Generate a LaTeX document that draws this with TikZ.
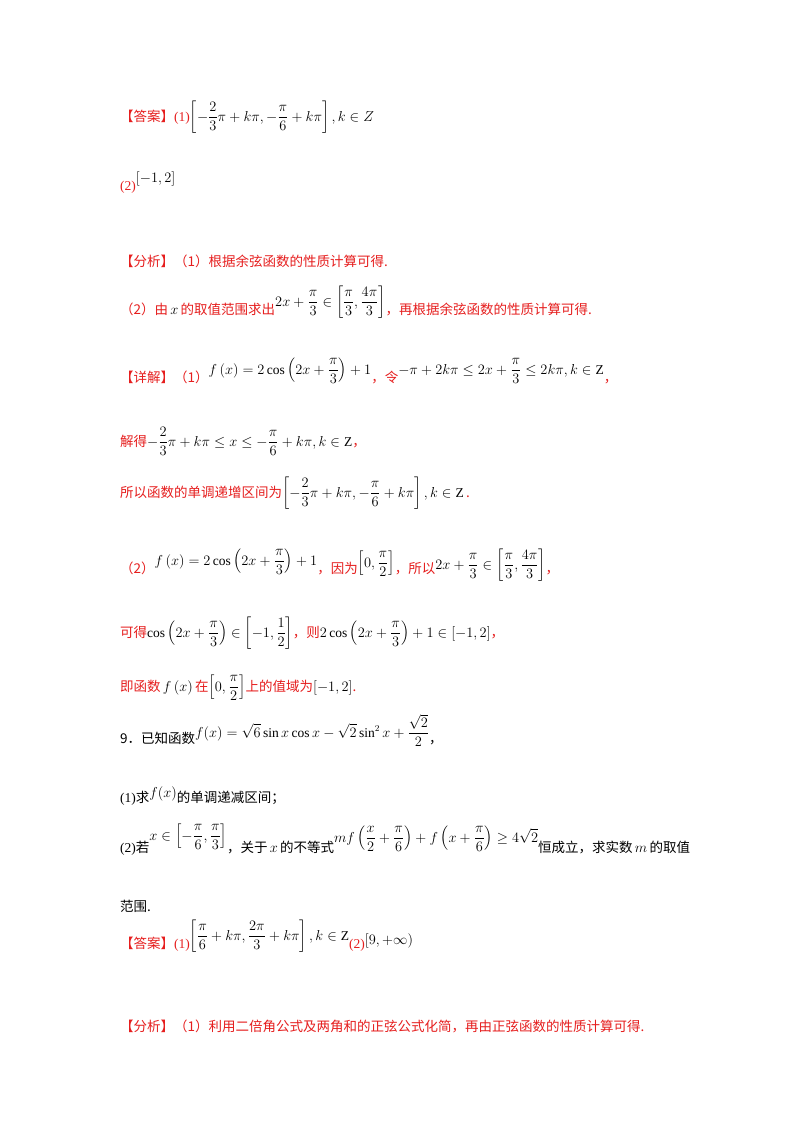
\documentclass[tikz,border=0pt]{standalone}
\usepackage{amsmath,amssymb}
\usepackage{fontspec}
\setmainfont{Liberation Serif}
\newfontfamily\cjk{Noto Sans CJK SC}
\definecolor{ans}{RGB}{230,30,30}
\newcommand{\R}[1]{\textcolor{ans}{\cjk #1}}
\newcommand{\K}[1]{{\cjk #1}}
\tikzset{ln/.style={anchor=base west,inner sep=0pt,font=\fontsize{13.5}{16}\selectfont}}
\begin{document}
\begin{tikzpicture}[x=1pt,y=-1pt]
\useasboundingbox[fill=white] (0,0) rectangle (800,1132);
\node[ln] (l1) at (120,121) {\R{【答案】}\textcolor{ans}{(1)}$\displaystyle\left[-\frac{2}{3}\pi+k\pi,-\frac{\pi}{6}+k\pi\right],k\in Z$};
\node[ln] (l2) at (120,190) {\textcolor{ans}{(2)}\raisebox{8pt}{$[-1,2]$}};
\node[ln] (l3) at (120,266) {\R{【分析】（1）根据余弦函数的性质计算可得.}};
\node[ln] (l4) at (120,314) {\R{（2）由}\,$x$\,\R{的取值范围求出}\raisebox{8pt}{$\displaystyle 2x+\frac{\pi}{3}\in\left[\frac{\pi}{3},\frac{4\pi}{3}\right]$}\R{，再根据余弦函数的性质计算可得.}};
\node[ln] (l5) at (120,382) {\R{【详解】（1）}\raisebox{8pt}{$\displaystyle f\left(x\right)=2\cos\left(2x+\frac{\pi}{3}\right)+1$}\R{，令}\raisebox{8pt}{$\displaystyle -\pi+2k\pi\le 2x+\frac{\pi}{3}\le 2k\pi,k\in\mathrm{Z}$}\R{，}};
\node[ln] (l6) at (120,446) {\R{解得}$\displaystyle -\frac{2}{3}\pi+k\pi\le x\le-\frac{\pi}{6}+k\pi,k\in\mathrm{Z}$\R{，}};
\node[ln] (l7) at (120,497) {\R{所以函数的单调递增区间为}$\displaystyle\left[-\frac{2}{3}\pi+k\pi,-\frac{\pi}{6}+k\pi\right],k\in\mathrm{Z}$\,\R{.}};
\node[ln] (l8) at (120,573) {\R{（2）}\raisebox{8pt}{$\displaystyle f\left(x\right)=2\cos\left(2x+\frac{\pi}{3}\right)+1$}\R{，因为}\raisebox{6pt}{$\displaystyle\left[0,\frac{\pi}{2}\right]$}\R{，所以}\raisebox{4pt}{$\displaystyle 2x+\frac{\pi}{3}\in\left[\frac{\pi}{3},\frac{4\pi}{3}\right]$}\R{，}};
\node[ln] (l9) at (120,637) {\R{可得}$\displaystyle\cos\left(2x+\frac{\pi}{3}\right)\in\left[-1,\frac{1}{2}\right]$\R{，则}$\displaystyle 2\cos\left(2x+\frac{\pi}{3}\right)+1\in\left[-1,2\right]$\R{，}};
\node[ln] (l10) at (120,691) {\R{即函数}\,$f\left(x\right)$\,\R{在}$\displaystyle\left[0,\frac{\pi}{2}\right]$\R{上的值域为}$\left[-1,2\right]$\R{.}};
\node[ln] (l11) at (120,743) {\K{9．已知函数}\raisebox{6pt}{$\displaystyle f(x)=\sqrt{6}\sin x\cos x-\sqrt{2}\sin^2x+\frac{\sqrt{2}}{2}$}\K{，}};
\node[ln] (l12) at (120,802) {(1)\K{求}\raisebox{5pt}{$f(x)$}\K{的单调递减区间；}};
\node[ln] (l13) at (120,852) {(2)\K{若}\raisebox{12pt}{$\displaystyle x\in\left[-\frac{\pi}{6},\frac{\pi}{3}\right]$}\K{，关于}\,$x$\,\K{的不等式}\raisebox{10pt}{$\displaystyle mf\left(\frac{x}{2}+\frac{\pi}{6}\right)+f\left(x+\frac{\pi}{6}\right)\ge4\sqrt{2}$}\K{恒成立，求实数}\,$m$\,\K{的取值}};
\node[ln] (l14) at (120,911) {\K{范围.}};
\node[ln] (l15) at (120,948) {\R{【答案】}\textcolor{ans}{(1)}\raisebox{8pt}{$\displaystyle\left[\frac{\pi}{6}+k\pi,\frac{2\pi}{3}+k\pi\right],k\in\mathrm{Z}$}\textcolor{ans}{(2)}\raisebox{4pt}{$[9,+\infty)$}};
\node[ln] (l16) at (120,1031) {\R{【分析】（1）利用二倍角公式及两角和的正弦公式化简，再由正弦函数的性质计算可得.}};
\end{tikzpicture}
\end{document}
